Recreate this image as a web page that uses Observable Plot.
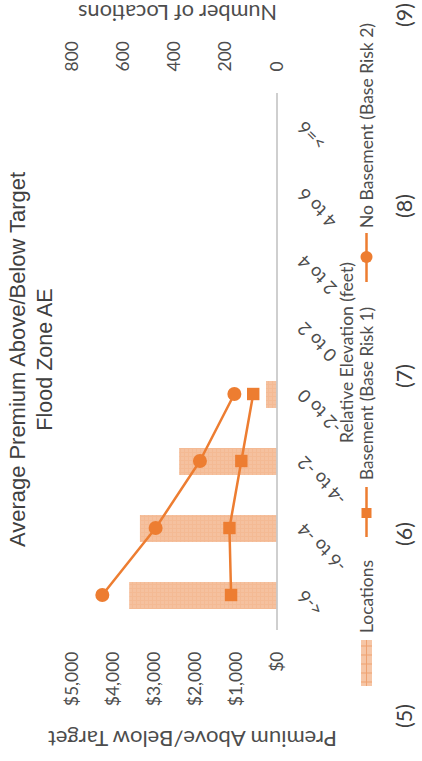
<!DOCTYPE html>
<html><head><meta charset="utf-8">
<script src="https://cdn.jsdelivr.net/npm/d3@7"></script>
<script src="https://cdn.jsdelivr.net/npm/@observablehq/plot@0.6"></script>
<style>
html,body{margin:0;padding:0;background:#fff;overflow:hidden;width:422px;height:761px}
#rot{position:absolute;left:0;top:0;width:761px;height:422px;transform-origin:0 0;transform:translate(0,761px) rotate(-90deg);}
#rot svg{display:block}
</style></head><body>
<div id="rot"></div>
<script>
// ---- data ----
const categories = ["<-6", "-6 to -4", "-4 to -2", "-2 to 0", "0 to 2", "2 to 4", "4 to 6", ">=6"];
const locations = [575, 533, 380, 41, 0, 0, 0, 0];
const basement = [1120, 1160, 870, 580, null, null, null, null];
const noBasement = [4260, 2960, 1880, 1040, null, null, null, null];
const premiumTicks = [0, 1000, 2000, 3000, 4000, 5000];
const locationTicks = [0, 200, 400, 600, 800];
const columnLabels = ["(5)", "(6)", "(7)", "(8)", "(9)"];
const titleLines = ["Average Premium Above/Below Target", "Flood Zone AE"];
const seriesNames = ["Locations", "Basement (Base Risk 1)", "No Basement (Base Risk 2)"];

const LOC_MAX = 800, PREM_MAX = 5000, k = PREM_MAX / LOC_MAX;
const rows = categories.map((c, i) => ({cat: c, loc: locations[i], b: basement[i], nb: noBasement[i]}));
const ORANGE = "#ED7D31";
const TXT = "#4d4d4d";

const chart = Plot.plot({
  width: 761, height: 422,
  marginLeft: 131, marginRight: 93, marginTop: 71.5, marginBottom: 145.5,
  style: {fontFamily: "Lato", color: TXT, background: "transparent", overflow: "visible"},
  x: {type: "band", domain: categories, paddingInner: 0.6, paddingOuter: 0.3, axis: null},
  y: {domain: [0, PREM_MAX], axis: null},
  marks: [
    Plot.barY(rows, {x: "cat", y: d => d.loc * k, fill: "url(#locPat)"}),
    Plot.ruleY([0], {stroke: "#bfbfbf", strokeWidth: 1.5}),
    Plot.axisY({anchor: "left", ticks: premiumTicks, tickFormat: d3.format("$,"), tickSize: 0, tickPadding: 22, fontSize: 17.5, label: null}),
    Plot.axisY({anchor: "right", ticks: locationTicks.map(v => v * k), tickFormat: d => d3.format(",")(Math.round(d / k)), tickSize: 0, tickPadding: 21, fontSize: 17.5, label: null}),
    Plot.text(categories, {x: d => d, y: 0, text: d => d, rotate: -45, textAnchor: "end", lineAnchor: "middle", dx: 2, dy: 24, fontSize: 18, fill: TXT}),
    Plot.line(rows.filter(d => d.b != null), {x: "cat", y: "b", stroke: ORANGE, strokeWidth: 2.5}),
    Plot.dot(rows.filter(d => d.b != null), {x: "cat", y: "b", symbol: "square", r: 7, fill: ORANGE}),
    Plot.line(rows.filter(d => d.nb != null), {x: "cat", y: "nb", stroke: ORANGE, strokeWidth: 2.5}),
    Plot.dot(rows.filter(d => d.nb != null), {x: "cat", y: "nb", symbol: "circle", r: 7, fill: ORANGE})
  ]
});

const svg = d3.select(chart);
const defs = svg.insert("defs", ":first-child");
const pat = defs.append("pattern").attr("id", "locPat").attr("patternUnits", "userSpaceOnUse").attr("width", 4).attr("height", 4);
pat.append("rect").attr("width", 4).attr("height", 4).attr("fill", "#F5C19F");
pat.append("path").attr("d", "M0,0.5H4M0.5,0V4").attr("stroke", "#F4BA94").attr("stroke-width", 1);

const ann = svg.append("g").attr("fill", TXT).style("font-family", "Lato");
function label(x, y, s, o = {}) {
  const t = ann.append("text").attr("x", x).attr("y", y).text(s)
    .attr("text-anchor", o.anchor || "start")
    .style("font-size", (o.size || 17) + "px");
  if (o.family) t.style("font-family", o.family);
  if (o.fill) t.attr("fill", o.fill);
  if (o.len) t.attr("textLength", o.len).attr("lengthAdjust", "spacingAndGlyphs");
  if (o.rotate != null) t.attr("transform", `rotate(${o.rotate},${x},${y})`);
  return t;
}
// title
label(401.5, 25, titleLines[0], {anchor: "middle", size: 21.5, family: "Liberation Sans", fill: "#404040", len: 375});
label(401.5, 52, titleLines[1], {anchor: "middle", size: 21.5, family: "Liberation Sans", fill: "#404040"});
// axis titles
label(30, 192.5, "Premium Above/Below Target", {anchor: "middle", size: 21, rotate: -90, len: 289});
label(756, 177.5, "Number of Locations", {anchor: "middle", size: 21, rotate: -90, len: 199});
label(408.5, 352.5, "Relative Elevation (feet)", {anchor: "middle", size: 17, len: 181});
// legend
const lg = ann.append("g");
lg.append("rect").attr("x", 75).attr("y", 361).attr("width", 46).attr("height", 11).attr("fill", "#F6C6A6");
for (let xx = 79; xx < 121; xx += 9) lg.append("line").attr("x1", xx).attr("x2", xx).attr("y1", 361).attr("y2", 372).attr("stroke", "#EFA271").attr("stroke-width", 1);
lg.append("line").attr("x1", 75).attr("x2", 121).attr("y1", 366.5).attr("y2", 366.5).attr("stroke", "#EFA271").attr("stroke-width", 1);
label(128, 372.5, seriesNames[0], {len: 73});
lg.append("line").attr("x1", 224).attr("x2", 274).attr("y1", 366.5).attr("y2", 366.5).attr("stroke", ORANGE).attr("stroke-width", 2.5);
lg.append("rect").attr("x", 243).attr("y", 361.5).attr("width", 10).attr("height", 10).attr("fill", ORANGE);
label(281, 372.5, seriesNames[1], {len: 173});
lg.append("line").attr("x1", 479).attr("x2", 528).attr("y1", 366.5).attr("y2", 366.5).attr("stroke", ORANGE).attr("stroke-width", 2.5);
lg.append("circle").attr("cx", 504).attr("cy", 366.5).attr("r", 6).attr("fill", ORANGE);
label(533, 372.5, seriesNames[2], {len: 205});
// column numbers
const colX = [45, 227, 385, 555, 746];
columnLabels.forEach((s, i) => label(colX[i], 412, s, {anchor: "middle", size: 21.5, fill: "#404040"}));

document.getElementById("rot").appendChild(chart);
</script>
</body></html>
